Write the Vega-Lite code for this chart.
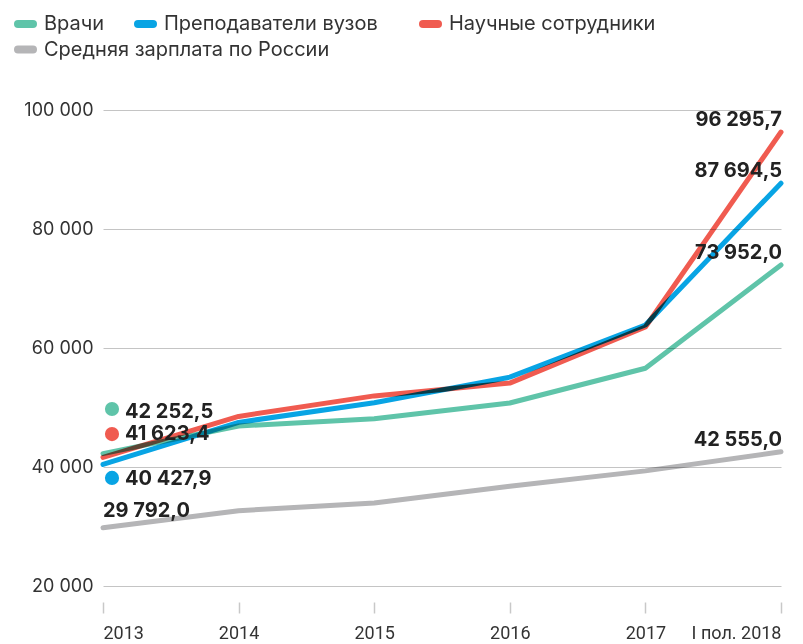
{
  "$schema": "https://vega.github.io/schema/vega-lite/v6.json",
  "width": 678,
  "height": 476,
  "autosize": {"type": "none"},
  "padding": {"left": 103, "top": 110, "right": 22, "bottom": 58},
  "config": {
    "view": {"stroke": null},
    "font": "Inter",
    "locale": {"number": {"decimal": ",", "thousands": " ", "grouping": [3], "currency": ["", ""]}},
    "legend": {
      "title": null,
      "orient": "none",
      "direction": "horizontal",
      "padding": 0,
      "symbolType": "M-1,0L1,0",
      "symbolSize": 225,
      "symbolStrokeWidth": 8,
      "labelFontSize": 20,
      "labelColor": "#333333",
      "labelOffset": 7,
      "labelLimit": 400
    }
  },
  "data": {
    "values": [
      {"series": "Врачи", "year": 2013, "value": 42252.5},
      {"series": "Врачи", "year": 2014, "value": 46900},
      {"series": "Врачи", "year": 2015, "value": 48100},
      {"series": "Врачи", "year": 2016, "value": 50750},
      {"series": "Врачи", "year": 2017, "value": 56600},
      {"series": "Врачи", "year": 2018, "value": 73952.0},
      {"series": "Преподаватели вузов", "year": 2013, "value": 40427.9},
      {"series": "Преподаватели вузов", "year": 2014, "value": 47500},
      {"series": "Преподаватели вузов", "year": 2015, "value": 50800},
      {"series": "Преподаватели вузов", "year": 2016, "value": 55100},
      {"series": "Преподаватели вузов", "year": 2017, "value": 63870},
      {"series": "Преподаватели вузов", "year": 2018, "value": 87694.5},
      {"series": "Научные сотрудники", "year": 2013, "value": 41623.4},
      {"series": "Научные сотрудники", "year": 2014, "value": 48500},
      {"series": "Научные сотрудники", "year": 2015, "value": 51950},
      {"series": "Научные сотрудники", "year": 2016, "value": 54100},
      {"series": "Научные сотрудники", "year": 2017, "value": 63530},
      {"series": "Научные сотрудники", "year": 2018, "value": 96295.7},
      {"series": "Средняя зарплата по России", "year": 2013, "value": 29792.0},
      {"series": "Средняя зарплата по России", "year": 2014, "value": 32650},
      {"series": "Средняя зарплата по России", "year": 2015, "value": 33950},
      {"series": "Средняя зарплата по России", "year": 2016, "value": 36750},
      {"series": "Средняя зарплата по России", "year": 2017, "value": 39350},
      {"series": "Средняя зарплата по России", "year": 2018, "value": 42555.0}
    ]
  },
  "encoding": {
    "x": {
      "field": "year",
      "type": "quantitative",
      "scale": {"domain": [2013, 2018], "nice": false, "zero": false},
      "axis": {
        "values": [2013, 2014, 2015, 2016, 2017, 2018],
        "format": "d",
        "labelExpr": "datum.value == 2018 ? 'I пол. 2018' : datum.label",
        "labelFlush": true,
        "domain": false,
        "grid": false,
        "ticks": true,
        "tickSize": 11,
        "tickColor": "#c8c8c8",
        "tickWidth": 1.5,
        "offset": 16,
        "labelPadding": 11,
        "labelFont": "Roboto",
        "labelFontSize": 18,
        "labelColor": "#333333",
        "title": null
      }
    },
    "y": {
      "field": "value",
      "type": "quantitative",
      "scale": {"domain": [20000, 100000], "nice": false, "zero": false},
      "axis": {
        "values": [20000, 40000, 60000, 80000, 100000],
        "format": ",d",
        "domain": false,
        "ticks": false,
        "grid": true,
        "gridColor": "#c4c4c4",
        "gridWidth": 1,
        "labelPadding": 10,
        "labelFontSize": 18,
        "labelColor": "#333333",
        "title": null
      }
    }
  },
  "resolve": {"scale": {"color": "independent"}, "legend": {"color": "independent"}},
  "layer": [
    {
      "transform": [{"filter": "datum.series == 'Средняя зарплата по России'"}],
      "mark": {"type": "line", "strokeWidth": 5, "strokeCap": "round", "strokeJoin": "round", "blend": "multiply"},
      "encoding": {
        "color": {
          "field": "series",
          "type": "nominal",
          "scale": {"domain": ["Средняя зарплата по России"], "range": ["#b5b5b7"]},
          "legend": {
            "legendX": -89,
            "legendY": -72,
            "encoding": {"symbols": {"strokeCap": {"value": "round"}, "strokeWidth": {"value": 8}}}
          }
        }
      }
    },
    {
      "transform": [{"filter": "datum.series == 'Врачи'"}],
      "mark": {"type": "line", "strokeWidth": 5, "strokeCap": "round", "strokeJoin": "round", "blend": "multiply"},
      "encoding": {
        "color": {
          "field": "series",
          "type": "nominal",
          "scale": {"domain": ["Врачи"], "range": ["#5fc4a9"]},
          "legend": {
            "legendX": -89,
            "legendY": -97.5,
            "encoding": {"symbols": {"strokeCap": {"value": "round"}, "strokeWidth": {"value": 8}}}
          }
        }
      }
    },
    {
      "transform": [{"filter": "datum.series == 'Преподаватели вузов'"}],
      "mark": {"type": "line", "strokeWidth": 5, "strokeCap": "round", "strokeJoin": "round", "blend": "multiply"},
      "encoding": {
        "color": {
          "field": "series",
          "type": "nominal",
          "scale": {"domain": ["Преподаватели вузов"], "range": ["#08a4e4"]},
          "legend": {
            "legendX": 31,
            "legendY": -97.5,
            "encoding": {"symbols": {"strokeCap": {"value": "round"}, "strokeWidth": {"value": 8}}}
          }
        }
      }
    },
    {
      "transform": [{"filter": "datum.series == 'Научные сотрудники'"}],
      "mark": {"type": "line", "strokeWidth": 5, "strokeCap": "round", "strokeJoin": "round", "blend": "multiply"},
      "encoding": {
        "color": {
          "field": "series",
          "type": "nominal",
          "scale": {"domain": ["Научные сотрудники"], "range": ["#f05b50"]},
          "legend": {
            "legendX": 316,
            "legendY": -97.5,
            "encoding": {"symbols": {"strokeCap": {"value": "round"}, "strokeWidth": {"value": 8}}}
          }
        }
      }
    },
    {
      "transform": [{"filter": "datum.year == 2013 && datum.series == 'Врачи'"}],
      "mark": {"type": "circle", "size": 201, "opacity": 1, "color": "#5fc4a9", "xOffset": 9, "yOffset": -44.6}
    },
    {
      "transform": [{"filter": "datum.year == 2013 && datum.series == 'Научные сотрудники'"}],
      "mark": {"type": "circle", "size": 201, "opacity": 1, "color": "#f05b50", "xOffset": 9, "yOffset": -23.3}
    },
    {
      "transform": [{"filter": "datum.year == 2013 && datum.series == 'Преподаватели вузов'"}],
      "mark": {"type": "circle", "size": 201, "opacity": 1, "color": "#08a4e4", "xOffset": 9, "yOffset": 13.5}
    },
    {
      "transform": [{"filter": "datum.year == 2018"}],
      "mark": {"type": "text", "align": "right", "baseline": "alphabetic", "dx": 1, "dy": -6, "fontSize": 20, "fontWeight": "bold", "color": "#222222"},
      "encoding": {"text": {"field": "value", "type": "quantitative", "format": ",.1f"}}
    },
    {
      "transform": [{"filter": "datum.year == 2013 && datum.series == 'Врачи'"}],
      "mark": {"type": "text", "align": "left", "baseline": "alphabetic", "dx": 22, "dy": -36, "fontSize": 20, "fontWeight": "bold", "color": "#222222"},
      "encoding": {"text": {"field": "value", "type": "quantitative", "format": ",.1f"}}
    },
    {
      "transform": [{"filter": "datum.year == 2013 && datum.series == 'Научные сотрудники'"}],
      "mark": {"type": "text", "align": "left", "baseline": "alphabetic", "dx": 22, "dy": -17, "fontSize": 20, "fontWeight": "bold", "color": "#222222"},
      "encoding": {"text": {"field": "value", "type": "quantitative", "format": ",.1f"}}
    },
    {
      "transform": [{"filter": "datum.year == 2013 && datum.series == 'Преподаватели вузов'"}],
      "mark": {"type": "text", "align": "left", "baseline": "alphabetic", "dx": 22, "dy": 21, "fontSize": 20, "fontWeight": "bold", "color": "#222222"},
      "encoding": {"text": {"field": "value", "type": "quantitative", "format": ",.1f"}}
    },
    {
      "transform": [{"filter": "datum.year == 2013 && datum.series == 'Средняя зарплата по России'"}],
      "mark": {"type": "text", "align": "left", "baseline": "alphabetic", "dx": 0, "dy": -11, "fontSize": 20, "fontWeight": "bold", "color": "#222222"},
      "encoding": {"text": {"field": "value", "type": "quantitative", "format": ",.1f"}}
    }
  ]
}
